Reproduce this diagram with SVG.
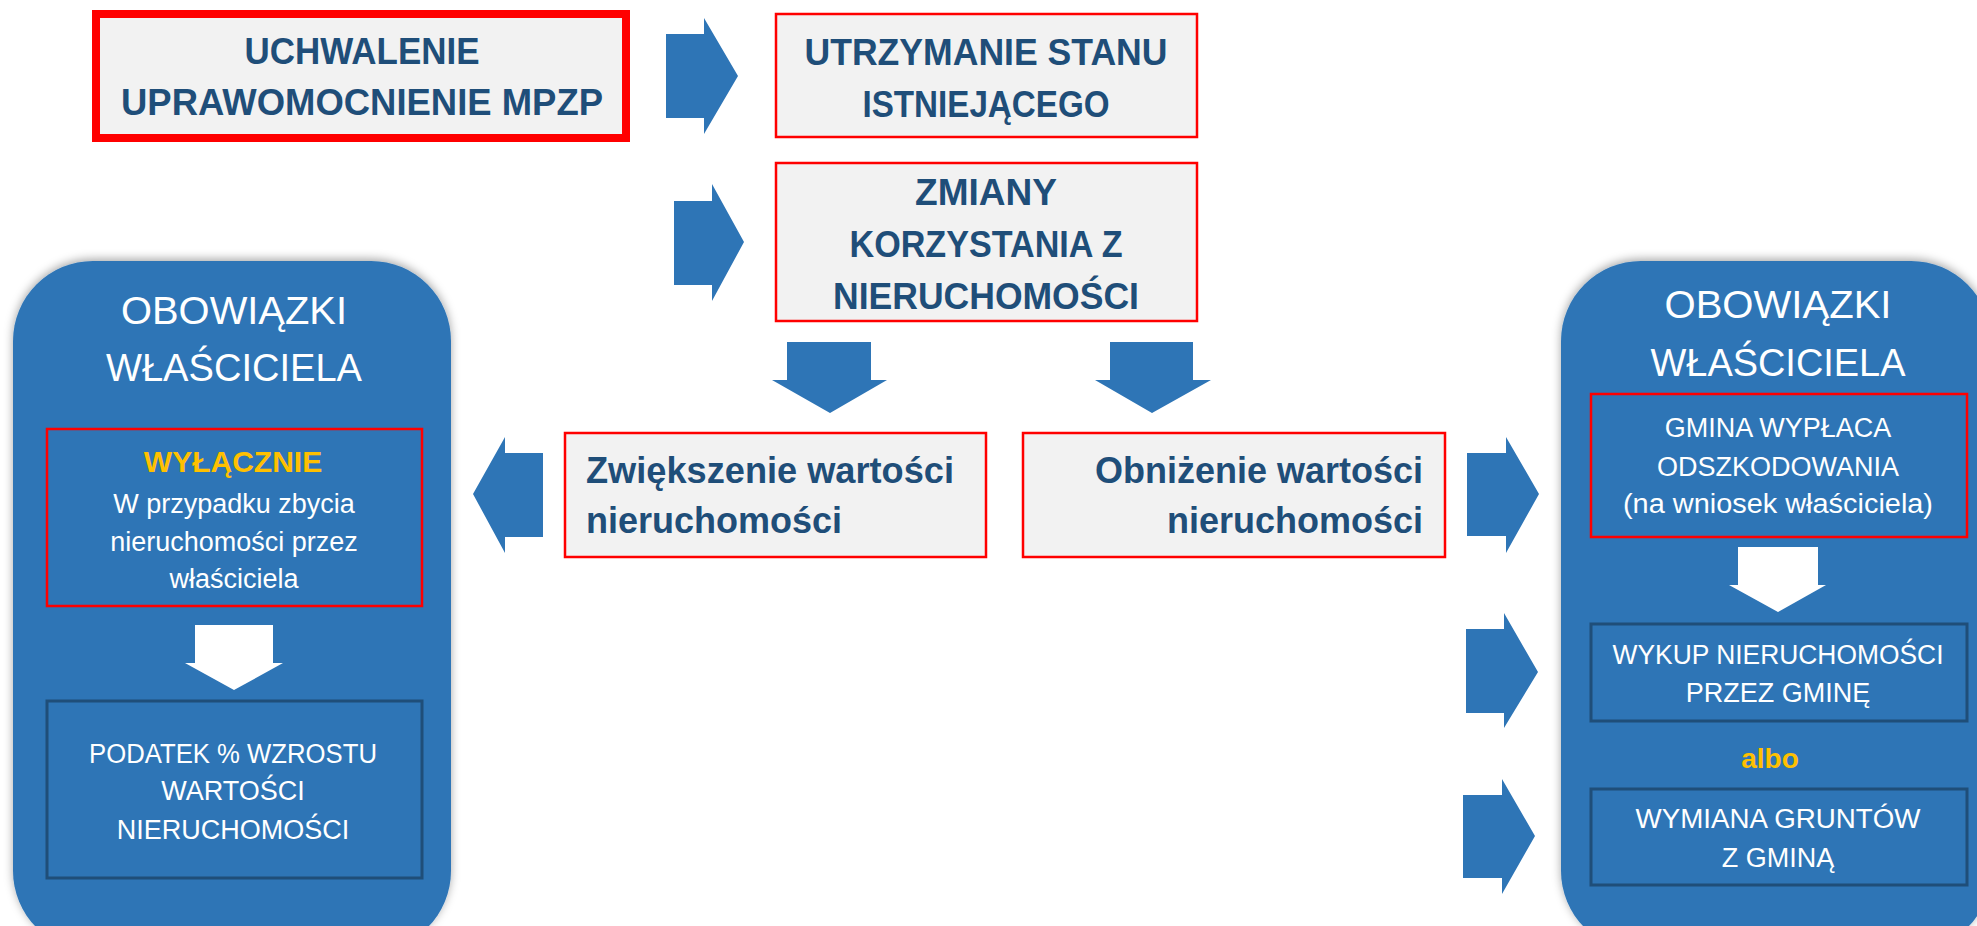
<svg xmlns="http://www.w3.org/2000/svg" width="1977" height="926" viewBox="0 0 1977 926">
<style>
.box{fill:#f2f2f2;stroke:#ff0000;stroke-width:2.5}
.thick{fill:#f2f2f2;stroke:#ff0000;stroke-width:8}
.hd{font-family:"Liberation Sans",Arial,sans-serif;font-weight:bold;font-size:36px;fill:#1f4e79}
.panel{fill:#2e75b6;filter:url(#sh)}
.ttl{font-family:"Liberation Sans",Arial,sans-serif;font-size:39px;fill:#ffffff;text-anchor:middle}
.wt{font-family:"Liberation Sans",Arial,sans-serif;font-size:27px;fill:#ffffff;text-anchor:middle}
.gold{font-family:"Liberation Sans",Arial,sans-serif;font-weight:bold;fill:#ffc000;text-anchor:middle}
.redin{fill:none;stroke:#ff0000;stroke-width:2.5}
.darkin{fill:none;stroke:#1f4e79;stroke-width:3}
.ba{fill:#2e75b6}
.wa{fill:#ffffff}
</style>
<defs>
<filter id="sh" x="-10%" y="-10%" width="120%" height="120%">
<feDropShadow dx="0" dy="-2" stdDeviation="5" flood-color="#000000" flood-opacity="0.35"/>
</filter>
</defs>
<rect width="1977" height="926" fill="#ffffff"/>

<g id="panel-left">
<rect class="panel" x="13" y="261" width="438" height="690" rx="80"/>
<text class="ttl" x="234" y="324" textLength="226" lengthAdjust="spacingAndGlyphs">OBOWIĄZKI</text>
<text class="ttl" x="234" y="381" textLength="256" lengthAdjust="spacingAndGlyphs">WŁAŚCICIELA</text>
</g>
<g id="panel-right">
<rect class="panel" x="1561" y="261" width="430" height="690" rx="80"/>
<text class="ttl" x="1778" y="318" textLength="227" lengthAdjust="spacingAndGlyphs">OBOWIĄZKI</text>
<text class="ttl" x="1778" y="376" textLength="255" lengthAdjust="spacingAndGlyphs">WŁAŚCICIELA</text>
</g>

<g id="n-uchwalenie">
<rect class="thick" x="96" y="14" width="530" height="124"/>
<text class="hd" x="362" y="64" text-anchor="middle" textLength="235" lengthAdjust="spacingAndGlyphs">UCHWALENIE</text>
<text class="hd" x="362" y="115" text-anchor="middle" textLength="482" lengthAdjust="spacingAndGlyphs">UPRAWOMOCNIENIE MPZP</text>
</g>
<g id="n-utrzymanie">
<rect class="box" x="776" y="14" width="421" height="123"/>
<text class="hd" x="986" y="65" text-anchor="middle" textLength="363" lengthAdjust="spacingAndGlyphs">UTRZYMANIE STANU</text>
<text class="hd" x="986" y="117" text-anchor="middle" textLength="247" lengthAdjust="spacingAndGlyphs">ISTNIEJĄCEGO</text>
</g>
<g id="n-zmiany">
<rect class="box" x="776" y="163" width="421" height="158"/>
<text class="hd" x="986" y="205" text-anchor="middle" textLength="142" lengthAdjust="spacingAndGlyphs">ZMIANY</text>
<text class="hd" x="986" y="257" text-anchor="middle" textLength="273" lengthAdjust="spacingAndGlyphs">KORZYSTANIA Z</text>
<text class="hd" x="986" y="309" text-anchor="middle" textLength="306" lengthAdjust="spacingAndGlyphs">NIERUCHOMOŚCI</text>
</g>
<g id="n-zwiekszenie">
<rect class="box" x="565" y="433" width="421" height="124"/>
<text class="hd" x="586" y="483" textLength="368" lengthAdjust="spacingAndGlyphs">Zwiększenie wartości</text>
<text class="hd" x="586" y="533">nieruchomości</text>
</g>
<g id="n-obnizenie">
<rect class="box" x="1023" y="433" width="422" height="124"/>
<text class="hd" x="1423" y="483" text-anchor="end">Obniżenie wartości</text>
<text class="hd" x="1423" y="533" text-anchor="end">nieruchomości</text>
</g>

<g id="n-wylacznie">
<rect class="redin" x="47" y="429" width="375" height="177"/>
<text class="gold" x="233" y="472" font-size="30">WYŁĄCZNIE</text>
<text class="wt" x="234" y="513" font-size="28.5">W przypadku zbycia</text>
<text class="wt" x="234" y="551" font-size="28.5">nieruchomości przez</text>
<text class="wt" x="234" y="588" font-size="28.5">właściciela</text>
</g>
<g id="n-podatek">
<rect class="darkin" x="47" y="701" width="375" height="177"/>
<text class="wt" x="233" y="763" textLength="288" lengthAdjust="spacingAndGlyphs">PODATEK % WZROSTU</text>
<text class="wt" x="233" y="800">WARTOŚCI</text>
<text class="wt" x="233" y="839">NIERUCHOMOŚCI</text>
</g>
<g id="n-gmina">
<rect class="redin" x="1591" y="394" width="376" height="143"/>
<text class="wt" x="1778" y="437">GMINA WYPŁACA</text>
<text class="wt" x="1778" y="476">ODSZKODOWANIA</text>
<text class="wt" x="1778" y="513" textLength="310" lengthAdjust="spacingAndGlyphs">(na wniosek właściciela)</text>
</g>
<g id="n-wykup">
<rect class="darkin" x="1591" y="624" width="376" height="97"/>
<text class="wt" x="1778" y="664" textLength="331" lengthAdjust="spacingAndGlyphs">WYKUP NIERUCHOMOŚCI</text>
<text class="wt" x="1778" y="702">PRZEZ GMINĘ</text>
</g>
<g id="n-albo">
<text class="gold" x="1770" y="768" font-size="28">albo</text>
</g>
<g id="n-wymiana">
<rect class="darkin" x="1591" y="789" width="376" height="96"/>
<text class="wt" x="1778" y="828" textLength="285" lengthAdjust="spacingAndGlyphs">WYMIANA GRUNTÓW</text>
<text class="wt" x="1778" y="867">Z GMINĄ</text>
</g>

<g id="connectors">
<polygon class="ba" points="666,34 704,34 704,18 738,76 704,134 704,118 666,118"/>
<polygon class="ba" points="674,201 712,201 712,184 744,242 712,301 712,285 674,285"/>
<polygon class="ba" points="787,342 871,342 871,380 887,380 830,413 772,380 787,380"/>
<polygon class="ba" points="1110,342 1193,342 1193,380 1211,380 1152,413 1095,380 1110,380"/>
<polygon class="ba" points="543,453 505,453 505,437 473,494 505,553 505,537 543,537"/>
<polygon class="ba" points="1467,453 1506,453 1506,437 1539,494 1506,553 1506,536 1467,536"/>
<polygon class="ba" points="1466,629 1504,629 1504,613 1538,672 1504,728 1504,713 1466,713"/>
<polygon class="ba" points="1463,795 1502,795 1502,779 1535,836 1502,894 1502,878 1463,878"/>
<polygon class="wa" points="195,625 273,625 273,663 283,663 234,690 185,663 195,663"/>
<polygon class="wa" points="1738,547 1818,547 1818,585 1826,585 1778,612 1729,585 1738,585"/>
</g>
</svg>
